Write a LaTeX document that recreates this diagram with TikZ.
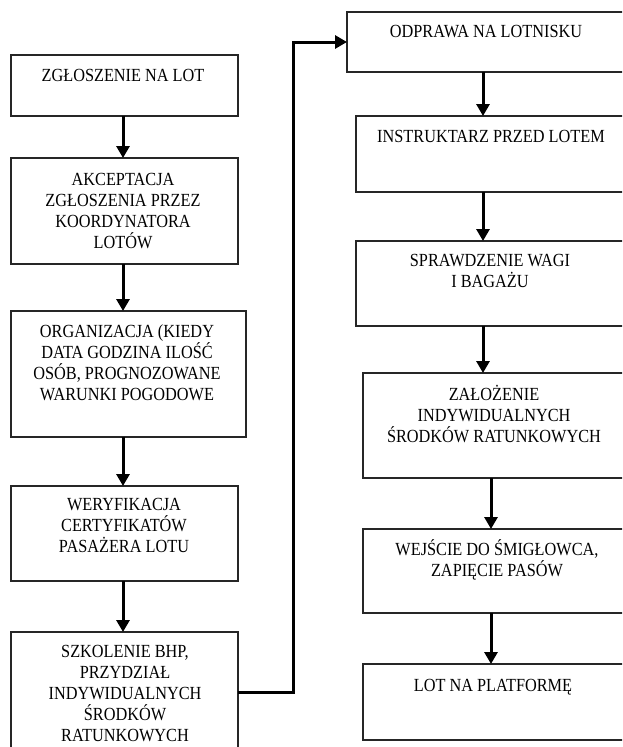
\documentclass[tikz,border=0pt]{standalone}
\usepackage{fontspec}
\setmainfont[FakeStretch=0.88]{Liberation Serif}
\usetikzlibrary{arrows.meta,calc}
\begin{document}
\begin{tikzpicture}[x=1pt,y=-1pt,
 box/.style={draw=black!85, line width=1.3pt, rectangle, inner sep=0pt, outer sep=0pt, anchor=north west},
 lbl/.style={align=center, font=\fontsize{18.5}{21}\selectfont, inner sep=0pt, text=black},
 arr/.style={line width=3pt, -{Triangle[width=13pt,length=12pt]}},
 link/.style={line width=3pt}]
\useasboundingbox (0,0) rectangle (622,747);
\clip (0,0) rectangle (622,747);
% left column boxes
\node[box, minimum width=227pt, minimum height=61pt] (b1) at (11,55) {};
\node[box, minimum width=227pt, minimum height=106pt] (b2) at (11,158) {};
\node[box, minimum width=235pt, minimum height=126pt] (b3) at (11,311) {};
\node[box, minimum width=227pt, minimum height=95pt] (b4) at (11,486) {};
\node[box, minimum width=227pt, minimum height=130pt] (b5) at (11,632) {};
% right column boxes
\node[box, minimum width=300pt, minimum height=60pt] (r1) at (347,12) {};
\node[box, minimum width=290pt, minimum height=76pt] (r2) at (356,116) {};
\node[box, minimum width=290pt, minimum height=85pt] (r3) at (356,241) {};
\node[box, minimum width=290pt, minimum height=105pt] (r4) at (363,373) {};
\node[box, minimum width=290pt, minimum height=84pt] (r5) at (363,529) {};
\node[box, minimum width=290pt, minimum height=76pt] (r6) at (363,664) {};
% labels
\node[lbl] (t1) at (123,75) {ZGŁOSZENIE NA LOT};
\node[lbl] (t2) at (123,211) {AKCEPTACJA\\ZGŁOSZENIA PRZEZ\\KOORDYNATORA\\LOTÓW};
\node[lbl] (t3) at (127,363) {ORGANIZACJA (KIEDY\\DATA GODZINA ILOŚĆ\\OSÓB, PROGNOZOWANE\\WARUNKI POGODOWE};
\node[lbl] (t4) at (124,525) {WERYFIKACJA\\CERTYFIKATÓW\\PASAŻERA LOTU};
\node[lbl] (t5) at (125,694) {SZKOLENIE BHP,\\PRZYDZIAŁ\\INDYWIDUALNYCH\\ŚRODKÓW\\RATUNKOWYCH};
\node[lbl] (s1) at (486,32) {ODPRAWA NA LOTNISKU};
\node[lbl] (s2) at (491,136) {INSTRUKTARZ PRZED LOTEM};
\node[lbl] (s3) at (490,271) {SPRAWDZENIE WAGI\\I BAGAŻU};
\node[lbl] (s4) at (494,414) {ZAŁOŻENIE\\INDYWIDUALNYCH\\ŚRODKÓW RATUNKOWYCH};
\node[lbl] (s5) at (497,560) {WEJŚCIE DO ŚMIGŁOWCA,\\ZAPIĘCIE PASÓW};
\node[lbl] (s6) at (493,687) {LOT NA PLATFORMĘ};
% arrow columns
\coordinate (lx) at (123,0);
\coordinate (rx) at (483,0);
\coordinate (rx2) at (491,0);
\draw[arr] (b1.south -| lx) -- (b2.north -| lx);
\draw[arr] (b2.south -| lx) -- (b3.north -| lx);
\draw[arr] (b3.south -| lx) -- (b4.north -| lx);
\draw[arr] (b4.south -| lx) -- (b5.north -| lx);
\draw[arr] (r1.south -| rx) -- (r2.north -| rx);
\draw[arr] (r2.south -| rx) -- (r3.north -| rx);
\draw[arr] (r3.south -| rx) -- (r4.north -| rx);
\draw[arr] (r4.south -| rx2) -- (r5.north -| rx2);
\draw[arr] (r5.south -| rx2) -- (r6.north -| rx2);
% connector from left bottom to right top
\coordinate (cy) at (0,692);
\coordinate (up) at (293,42);
\draw[arr] (b5.east |- cy) -| (up) -- (r1.west |- up);
\end{tikzpicture}
\end{document}
